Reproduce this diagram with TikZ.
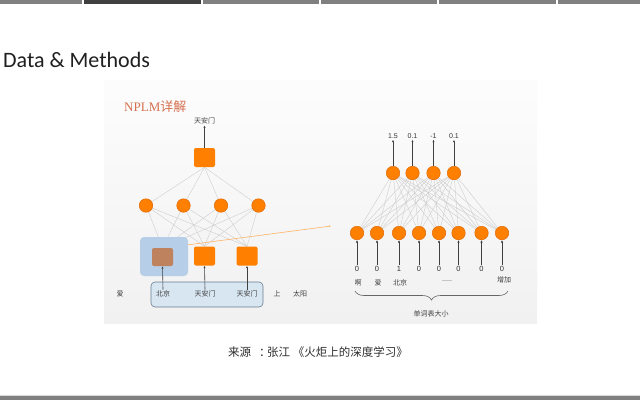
\documentclass[tikz,border=0pt]{standalone}
\usepackage{fontspec}
\setmainfont{Liberation Serif}
\newfontfamily\titlefont{Carlito}
\newfontfamily\cjk{Noto Sans CJK SC}
\newfontfamily\numfont{Liberation Sans}
\usetikzlibrary{arrows.meta,decorations.pathreplacing,calc}
\pgfdeclarelayer{panel}
\pgfdeclarelayer{lines}
\pgfsetlayers{panel,lines,main}
\definecolor{nodeorange}{RGB}{255,128,0}
\definecolor{nodeedge}{RGB}{225,105,0}
\definecolor{titlered}{RGB}{214,112,80}
\definecolor{brownsq}{RGB}{190,130,95}
\definecolor{bluebg}{RGB}{182,206,232}
\definecolor{lowblue}{RGB}{216,230,242}
\definecolor{lowedge}{RGB}{105,125,145}
\definecolor{linkgray}{RGB}{206,206,206}
\definecolor{barg}{RGB}{128,128,128}
\definecolor{bard}{RGB}{64,64,64}
\begin{document}
\begin{tikzpicture}[x=1pt,y=-1pt,
  circ/.style={circle,fill=nodeorange,draw=nodeedge,line width=0.5pt,inner sep=0pt,minimum size=13.5pt},
  sq/.style={rectangle,rounded corners=2pt,fill=nodeorange,inner sep=0pt,minimum width=21pt,minimum height=19pt},
  brsq/.style={rectangle,rounded corners=2pt,fill=brownsq,inner sep=0pt,minimum width=21pt,minimum height=18pt},
  link/.style={draw=linkgray,line width=0.4pt},
  upar/.style={draw=black!75,line width=0.6pt,-{Latex[length=2.5pt,width=2.2pt]}},
  lbl/.style={font=\cjk\fontsize{7}{8}\selectfont,text=black!75,inner sep=1pt},
  num/.style={font=\numfont\fontsize{7.5}{8}\selectfont,text=black!80,inner sep=1pt}]
\useasboundingbox (0,0) rectangle (640,400);
\begin{pgfonlayer}{panel}
\fill[white] (0,0) rectangle (640,400);
\shade[top color=white!99!black,bottom color=white!94.5!black] (104,80) rectangle (537,323);
\end{pgfonlayer}
% top bar
\fill[barg] (0,0) rectangle (82,3.5);
\fill[bard] (83.5,0) rectangle (201,3.5);
\fill[barg] (202.5,0) rectangle (319,3.5);
\fill[barg] (320.5,0) rectangle (437,3.5);
\fill[barg] (438.5,0) rectangle (556,3.5);
\fill[barg] (557.5,0) rectangle (640,3.5);
% bottom bar
\fill[black!15] (0,394.5) rectangle (640,396);
\fill[barg] (0,396) rectangle (640,400);
% title
\node[anchor=west,inner sep=0pt,font=\titlefont\fontsize{22}{24}\selectfont,text=black!88] (title) at (3,60) {Data \& Methods};
\node[anchor=west,inner sep=0pt,text=titlered] (nplm) at (124,107) {\fontsize{13}{14}\selectfont NPLM{\cjk 详解}};
% ---------- left network ----------
\node[sq] (top) at (204.5,157.5) {};
\node[lbl] (topl) at (204.5,121) {天安门};
\foreach \i/\x in {1/146,2/183.5,3/221,4/258.5}
  \node[circ] (h\i) at (\x,205.5) {};
\node[rectangle,rounded corners=4pt,fill=bluebg,minimum width=48pt,minimum height=39pt,inner sep=0pt] (bb) at (164,256.5) {};
\node[brsq] (e1) at (162.5,257) {};
\node[sq] (e2) at (204.5,256) {};
\node[sq] (e3) at (247,256) {};
\begin{pgfonlayer}{lines}
\foreach \i in {1,...,4} {
  \draw[link] (h\i) -- (top.south);
  \draw[link] (h\i) -- (e1.north);
  \draw[link] (h\i) -- (e2.north);
  \draw[link] (h\i) -- (e3.north);
}
\node[rectangle,rounded corners=4pt,fill=lowblue,draw=lowedge,line width=0.6pt,minimum width=112pt,minimum height=25pt,inner sep=0pt] (ctx) at (207,294.5) {};
\end{pgfonlayer}
\draw[upar] (top.north) -- (topl.south);
\node[lbl] (w0) at (120,294) {爱};
\node[lbl] (w1) at (163,294) {北京};
\node[lbl] (w2) at (205,294) {天安门};
\node[lbl] (w3) at (247,294) {天安门};
\node[lbl] (w4) at (277,294) {上};
\node[lbl] (w5) at (300,294) {太阳};
\draw[upar] (w1.north) -- (e1.south);
\draw[upar] (w2.north) -- (e2.south);
\draw[upar] (w3.north) -- (e3.south);
% orange link to the right network
\coordinate (ostart) at ($(bb.north east)+(0,8)$);
\coordinate (oend) at (331,226);
\draw[draw=nodeorange!60,line width=0.6pt,-{Latex[length=2pt,width=2pt]}] (ostart) -- (oend);
% ---------- right network ----------
\foreach \i/\x/\v in {1/393/1.5,2/412.5/0.1,3/433.5/-1,4/454/0.1} {
  \node[circ] (o\i) at (\x,173) {};
  \node[num,font=\numfont\fontsize{7}{8}\selectfont] (ol\i) at (\x,136) {\v};
  \draw[upar] (o\i.north) -- (ol\i.south);
}
\foreach \i/\x/\v in {1/357/0,2/377/0,3/399/1,4/419/0,5/439/0,6/458.5/0,7/481.5/0,8/502/0} {
  \node[circ] (i\i) at (\x,233) {};
  \node[num] (n\i) at (\x,269) {\v};
  \draw[upar] (n\i.north) -- (i\i.south);
}
\begin{pgfonlayer}{lines}
\foreach \a in {1,...,4}
  \foreach \b in {1,...,8}
    \draw[link] (o\a) -- (i\b);
\end{pgfonlayer}
\node[lbl] (r1) at (358,283) {啊};
\node[lbl] (r2) at (378,283) {爱};
\node[lbl] (r3) at (400,283) {北京};
\node[lbl,font=\numfont\fontsize{6}{7}\selectfont,text=black!55] (r4) at (447,282) {-----};
\node[lbl] (r5) at (504,280) {增加};
\coordinate (bl) at (355,291);
\coordinate (br) at (508,291);
\draw[black!60,line width=0.6pt,decorate,decoration={brace,amplitude=9pt,mirror}] (bl) -- (br);
\node[lbl] (vocab) at (431,314) {单词表大小};
% caption
\node[font=\cjk\fontsize{11.5}{13}\selectfont,text=black!82,inner sep=0pt] (cap) at (318,352) {来源\hspace{8pt}：\hspace{-3.5pt}张江 《火炬上的深度学习》};
\end{tikzpicture}
\end{document}
